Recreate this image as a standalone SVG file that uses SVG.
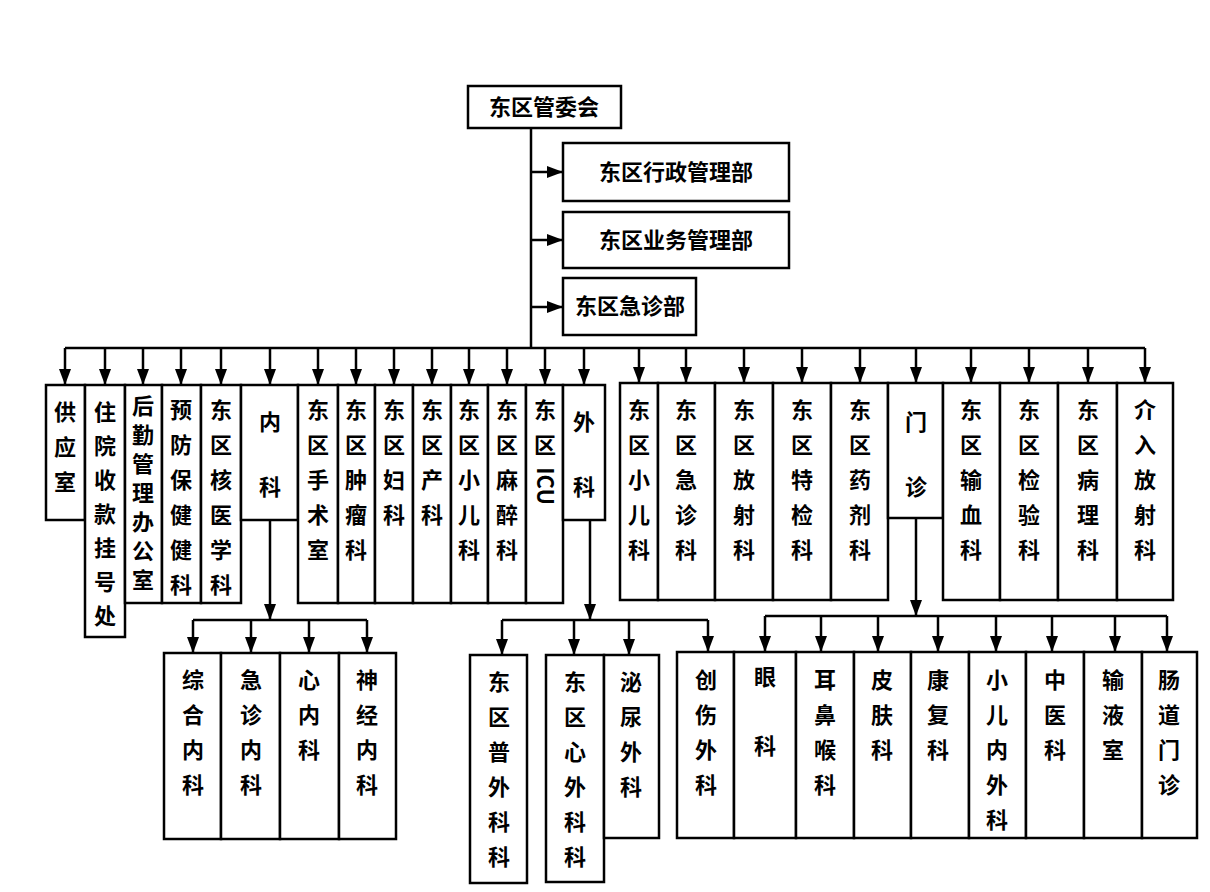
<svg xmlns="http://www.w3.org/2000/svg" width="1210" height="892" viewBox="0 0 1210 892">
<style>
rect{fill:#fff;stroke:#000;stroke-width:2.5}
text{font-family:"Noto Sans CJK SC","Noto Sans",sans-serif;font-weight:bold;font-size:22px;text-anchor:middle;fill:#000}
.c line,.c path{stroke:#000;stroke-width:2.5;fill:none}
</style>
<defs><marker id="a" markerUnits="userSpaceOnUse" markerWidth="16" markerHeight="12" viewBox="0 0 16 12" refX="16" refY="6" orient="auto"><path d="M0,0 L16,6 L0,12 Z" fill="#000"/></marker></defs>
<g class="c" id="connectors">
<line x1="531" y1="128" x2="531" y2="348"/>
<g marker-end="url(#a)">
<line x1="531" y1="172" x2="563" y2="172"/>
<line x1="531" y1="240" x2="563" y2="240"/>
<line x1="531" y1="307" x2="563" y2="307"/>
<line x1="65" y1="348" x2="65" y2="385"/><line x1="105" y1="348" x2="105" y2="385"/><line x1="143" y1="348" x2="143" y2="385"/><line x1="181" y1="348" x2="181" y2="385"/><line x1="221" y1="348" x2="221" y2="385"/><line x1="270" y1="348" x2="270" y2="385"/><line x1="318" y1="348" x2="318" y2="385"/><line x1="356" y1="348" x2="356" y2="385"/><line x1="394" y1="348" x2="394" y2="385"/><line x1="432" y1="348" x2="432" y2="385"/><line x1="469" y1="348" x2="469" y2="385"/><line x1="507" y1="348" x2="507" y2="385"/><line x1="545" y1="348" x2="545" y2="385"/><line x1="584" y1="348" x2="584" y2="385"/>
<line x1="639" y1="348" x2="639" y2="383"/><line x1="686" y1="348" x2="686" y2="383"/><line x1="744" y1="348" x2="744" y2="383"/><line x1="802" y1="348" x2="802" y2="383"/><line x1="860" y1="348" x2="860" y2="383"/><line x1="916" y1="348" x2="916" y2="383"/><line x1="971" y1="348" x2="971" y2="383"/><line x1="1029" y1="348" x2="1029" y2="383"/><line x1="1088" y1="348" x2="1088" y2="383"/><line x1="1145" y1="348" x2="1145" y2="383"/>
<line x1="270" y1="520" x2="270" y2="620"/><line x1="590" y1="520" x2="590" y2="620"/><line x1="916" y1="518" x2="916" y2="616"/>
<line x1="193" y1="620" x2="193" y2="653"/><line x1="251" y1="620" x2="251" y2="653"/><line x1="309" y1="620" x2="309" y2="653"/><line x1="367" y1="620" x2="367" y2="653"/>
<line x1="502" y1="620" x2="502" y2="655"/><line x1="574" y1="620" x2="574" y2="655"/><line x1="629" y1="620" x2="629" y2="655"/><line x1="708" y1="620" x2="708" y2="652"/>
<line x1="765" y1="616" x2="765" y2="652"/><line x1="821" y1="616" x2="821" y2="652"/><line x1="878" y1="616" x2="878" y2="652"/><line x1="938" y1="616" x2="938" y2="652"/><line x1="996" y1="616" x2="996" y2="652"/><line x1="1052" y1="616" x2="1052" y2="652"/><line x1="1115" y1="616" x2="1115" y2="652"/><line x1="1167" y1="616" x2="1167" y2="652"/>
</g>
<line x1="65" y1="348" x2="1145" y2="348"/>
<line x1="193" y1="620" x2="367" y2="620"/>
<line x1="502" y1="620" x2="708" y2="620"/>
<line x1="765" y1="616" x2="1167" y2="616"/>
</g>
<g id="top"><rect x="468" y="86" width="153" height="42"/><text x="544" y="115">东区管委会</text></g>
<g id="xz"><rect x="563" y="143" width="226" height="58"/><text x="676" y="180">东区行政管理部</text></g>
<g id="yw"><rect x="563" y="212" width="226" height="56"/><text x="676" y="248">东区业务管理部</text></g>
<g id="jz"><rect x="563" y="278" width="133" height="57"/><text x="630" y="314">东区急诊部</text></g>
<g id="r1a"><rect x="46" y="385" width="39" height="135"/><text x="65" y="420">供<tspan x="65" dy="35">应</tspan><tspan x="65" dy="35">室</tspan></text></g>
<g id="r1b"><rect x="85" y="385" width="40" height="252"/><text x="105" y="420">住<tspan x="105" dy="34">院</tspan><tspan x="105" dy="34">收</tspan><tspan x="105" dy="34">款</tspan><tspan x="105" dy="34">挂</tspan><tspan x="105" dy="34">号</tspan><tspan x="105" dy="34">处</tspan></text></g>
<g id="r1c"><rect x="125" y="385" width="37" height="218"/><text x="143" y="414" font-size="20">后<tspan x="143" dy="29">勤</tspan><tspan x="143" dy="29">管</tspan><tspan x="143" dy="29">理</tspan><tspan x="143" dy="29">办</tspan><tspan x="143" dy="29">公</tspan><tspan x="143" dy="29">室</tspan></text></g>
<g id="r1d"><rect x="162" y="385" width="39" height="218"/><text x="181" y="418">预<tspan x="181" dy="35">防</tspan><tspan x="181" dy="35">保</tspan><tspan x="181" dy="35">健</tspan><tspan x="181" dy="35">健</tspan><tspan x="181" dy="35">科</tspan></text></g>
<g id="r1e"><rect x="201" y="385" width="40" height="218"/><text x="221" y="418">东<tspan x="221" dy="35">区</tspan><tspan x="221" dy="35">核</tspan><tspan x="221" dy="35">医</tspan><tspan x="221" dy="35">学</tspan><tspan x="221" dy="35">科</tspan></text></g>
<g id="nk"><rect x="241" y="385" width="57" height="135"/><text x="270" y="430">内<tspan x="270" dy="65">科</tspan></text></g>
<g id="r1g"><rect x="298" y="385" width="40" height="218"/><text x="318" y="418">东<tspan x="318" dy="35">区</tspan><tspan x="318" dy="35">手</tspan><tspan x="318" dy="35">术</tspan><tspan x="318" dy="35">室</tspan></text></g>
<g id="r1h"><rect x="338" y="385" width="37" height="218"/><text x="356" y="418">东<tspan x="356" dy="35">区</tspan><tspan x="356" dy="35">肿</tspan><tspan x="356" dy="35">瘤</tspan><tspan x="356" dy="35">科</tspan></text></g>
<g id="r1i"><rect x="375" y="385" width="38" height="218"/><text x="394" y="418">东<tspan x="394" dy="35">区</tspan><tspan x="394" dy="35">妇</tspan><tspan x="394" dy="35">科</tspan></text></g>
<g id="r1j"><rect x="413" y="385" width="38" height="218"/><text x="432" y="418">东<tspan x="432" dy="35">区</tspan><tspan x="432" dy="35">产</tspan><tspan x="432" dy="35">科</tspan></text></g>
<g id="r1k"><rect x="451" y="385" width="37" height="218"/><text x="469" y="418">东<tspan x="469" dy="35">区</tspan><tspan x="469" dy="35">小</tspan><tspan x="469" dy="35">儿</tspan><tspan x="469" dy="35">科</tspan></text></g>
<g id="r1l"><rect x="488" y="385" width="38" height="218"/><text x="507" y="418">东<tspan x="507" dy="35">区</tspan><tspan x="507" dy="35">麻</tspan><tspan x="507" dy="35">醉</tspan><tspan x="507" dy="35">科</tspan></text></g>
<g id="icu"><rect x="526" y="385" width="37" height="218"/><text x="545" y="418">东<tspan x="545" dy="35">区</tspan></text><text transform="translate(537,486) rotate(90)" font-family="Liberation Serif,serif" font-size="22">ICU</text></g>
<g id="wk"><rect x="563" y="385" width="42" height="135"/><text x="584" y="430">外<tspan x="584" dy="65">科</tspan></text></g>
<g id="r2a"><rect x="620" y="383" width="38" height="217"/><text x="639" y="418">东<tspan x="639" dy="35">区</tspan><tspan x="639" dy="35">小</tspan><tspan x="639" dy="35">儿</tspan><tspan x="639" dy="35">科</tspan></text></g>
<g id="r2b"><rect x="658" y="383" width="57" height="217"/><text x="686" y="418">东<tspan x="686" dy="35">区</tspan><tspan x="686" dy="35">急</tspan><tspan x="686" dy="35">诊</tspan><tspan x="686" dy="35">科</tspan></text></g>
<g id="r2c"><rect x="715" y="383" width="58" height="217"/><text x="744" y="418">东<tspan x="744" dy="35">区</tspan><tspan x="744" dy="35">放</tspan><tspan x="744" dy="35">射</tspan><tspan x="744" dy="35">科</tspan></text></g>
<g id="r2d"><rect x="773" y="383" width="58" height="217"/><text x="802" y="418">东<tspan x="802" dy="35">区</tspan><tspan x="802" dy="35">特</tspan><tspan x="802" dy="35">检</tspan><tspan x="802" dy="35">科</tspan></text></g>
<g id="r2e"><rect x="831" y="383" width="57" height="217"/><text x="860" y="418">东<tspan x="860" dy="35">区</tspan><tspan x="860" dy="35">药</tspan><tspan x="860" dy="35">剂</tspan><tspan x="860" dy="35">科</tspan></text></g>
<g id="mz"><rect x="888" y="383" width="55" height="135"/><text x="916" y="430">门<tspan x="916" dy="65">诊</tspan></text></g>
<g id="r2g"><rect x="943" y="383" width="57" height="217"/><text x="971" y="418">东<tspan x="971" dy="35">区</tspan><tspan x="971" dy="35">输</tspan><tspan x="971" dy="35">血</tspan><tspan x="971" dy="35">科</tspan></text></g>
<g id="r2h"><rect x="1000" y="383" width="58" height="217"/><text x="1029" y="418">东<tspan x="1029" dy="35">区</tspan><tspan x="1029" dy="35">检</tspan><tspan x="1029" dy="35">验</tspan><tspan x="1029" dy="35">科</tspan></text></g>
<g id="r2i"><rect x="1058" y="383" width="59" height="217"/><text x="1088" y="418">东<tspan x="1088" dy="35">区</tspan><tspan x="1088" dy="35">病</tspan><tspan x="1088" dy="35">理</tspan><tspan x="1088" dy="35">科</tspan></text></g>
<g id="r2j"><rect x="1117" y="383" width="56" height="217"/><text x="1145" y="418">介<tspan x="1145" dy="35">入</tspan><tspan x="1145" dy="35">放</tspan><tspan x="1145" dy="35">射</tspan><tspan x="1145" dy="35">科</tspan></text></g>
<g id="n1"><rect x="164" y="653" width="57" height="186"/><text x="193" y="688">综<tspan x="193" dy="35">合</tspan><tspan x="193" dy="35">内</tspan><tspan x="193" dy="35">科</tspan></text></g>
<g id="n2"><rect x="221" y="653" width="59" height="186"/><text x="251" y="688">急<tspan x="251" dy="35">诊</tspan><tspan x="251" dy="35">内</tspan><tspan x="251" dy="35">科</tspan></text></g>
<g id="n3"><rect x="280" y="653" width="59" height="186"/><text x="309" y="688">心<tspan x="309" dy="35">内</tspan><tspan x="309" dy="35">科</tspan></text></g>
<g id="n4"><rect x="339" y="653" width="57" height="186"/><text x="367" y="688">神<tspan x="367" dy="35">经</tspan><tspan x="367" dy="35">内</tspan><tspan x="367" dy="35">科</tspan></text></g>
<g id="w1"><rect x="470" y="655" width="57" height="228"/><text x="499" y="690">东<tspan x="499" dy="35">区</tspan><tspan x="499" dy="35">普</tspan><tspan x="499" dy="35">外</tspan><tspan x="499" dy="35">科</tspan><tspan x="499" dy="35">科</tspan></text></g>
<g id="w2"><rect x="546" y="655" width="58" height="227"/><text x="575" y="690">东<tspan x="575" dy="35">区</tspan><tspan x="575" dy="35">心</tspan><tspan x="575" dy="35">外</tspan><tspan x="575" dy="35">科</tspan><tspan x="575" dy="35">科</tspan></text></g>
<g id="w3"><rect x="604" y="655" width="55" height="183"/><text x="631" y="690">泌<tspan x="631" dy="35">尿</tspan><tspan x="631" dy="35">外</tspan><tspan x="631" dy="35">科</tspan></text></g>
<g id="w4"><rect x="677" y="652" width="57" height="186"/><text x="706" y="688">创<tspan x="706" dy="35">伤</tspan><tspan x="706" dy="35">外</tspan><tspan x="706" dy="35">科</tspan></text></g>
<g id="m1"><rect x="734" y="652" width="62" height="186"/><text x="765" y="685">眼<tspan x="765" dy="69">科</tspan></text></g>
<g id="m2"><rect x="796" y="652" width="58" height="186"/><text x="825" y="688">耳<tspan x="825" dy="35">鼻</tspan><tspan x="825" dy="35">喉</tspan><tspan x="825" dy="35">科</tspan></text></g>
<g id="m3"><rect x="854" y="652" width="57" height="186"/><text x="882" y="688">皮<tspan x="882" dy="35">肤</tspan><tspan x="882" dy="35">科</tspan></text></g>
<g id="m4"><rect x="911" y="652" width="58" height="186"/><text x="938" y="688">康<tspan x="938" dy="35">复</tspan><tspan x="938" dy="35">科</tspan></text></g>
<g id="m5"><rect x="969" y="652" width="57" height="186"/><text x="997" y="688">小<tspan x="997" dy="35">儿</tspan><tspan x="997" dy="35">内</tspan><tspan x="997" dy="35">外</tspan><tspan x="997" dy="35">科</tspan></text></g>
<g id="m6"><rect x="1026" y="652" width="58" height="186"/><text x="1055" y="688">中<tspan x="1055" dy="35">医</tspan><tspan x="1055" dy="35">科</tspan></text></g>
<g id="m7"><rect x="1084" y="652" width="58" height="186"/><text x="1113" y="688">输<tspan x="1113" dy="35">液</tspan><tspan x="1113" dy="35">室</tspan></text></g>
<g id="m8"><rect x="1142" y="652" width="55" height="186"/><text x="1169" y="688">肠<tspan x="1169" dy="35">道</tspan><tspan x="1169" dy="35">门</tspan><tspan x="1169" dy="35">诊</tspan></text></g>
</svg>
